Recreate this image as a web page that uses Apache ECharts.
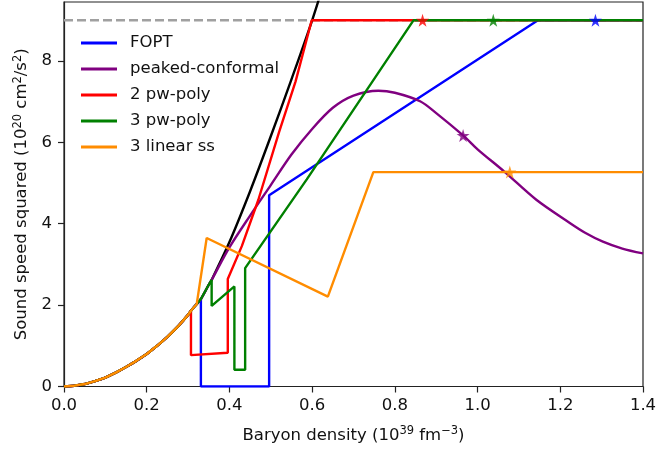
<!DOCTYPE html>
<html>
<head>
<meta charset="utf-8">
<script src="https://cdn.jsdelivr.net/npm/echarts@6/dist/echarts.min.js"></script>
<style>
  html, body { margin: 0; padding: 0; background: #fff; }
  #chart { width: 657px; height: 450px; }
</style>
</head>
<body>
<div id="chart"></div>
<script>
// shared low-density part of every curve (black = its continuation)
var baseline = [[0, 0], [0.025, 0.02], [0.05, 0.06], [0.075, 0.13], [0.1, 0.22], [0.125, 0.34],
  [0.15, 0.48], [0.175, 0.63], [0.2, 0.8], [0.225, 1.0], [0.25, 1.22], [0.275, 1.47],
  [0.3, 1.76], [0.307, 1.86], [0.321, 2.03], [0.331, 2.15], [0.35, 2.5], [0.357, 2.62],
  [0.4, 3.55], [0.45, 4.8], [0.5, 6.15], [0.55, 7.55], [0.6, 9.0], [0.64, 10.3]];

// model tails (after leaving the baseline)
var foptTail = [[0.331, 0], [0.496, 0], [0.496, 4.7], [1.146, 9.0], [1.4, 9.0]];
var peakedTail = [[0.4, 3.42], [0.45, 4.2], [0.5, 4.95], [0.55, 5.7], [0.6, 6.33], [0.65, 6.85],
  [0.7, 7.15], [0.76, 7.27], [0.8, 7.22], [0.861, 7.01], [0.9, 6.72], [0.965, 6.17], [1.0, 5.83],
  [1.066, 5.27], [1.142, 4.59], [1.223, 4.02], [1.26, 3.78], [1.303, 3.56], [1.35, 3.39], [1.4, 3.27]];
var pw2Tail = [[0.307, 0.77], [0.396, 0.83], [0.396, 2.64], [0.43, 3.45], [0.47, 4.59],
  [0.52, 6.25], [0.56, 7.5], [0.599, 9.0], [1.4, 9.0]];
var pw3Tail = [[0.357, 1.98], [0.412, 2.46], [0.412, 0.41], [0.438, 0.41], [0.438, 2.91],
  [0.587, 5.09], [0.845, 9.0], [1.4, 9.0]];
var linssTail = [[0.345, 3.65], [0.638, 2.21], [0.748, 5.27], [1.4, 5.27]];

// where each model leaves the baseline
var joinX = { fopt: 0.331, peaked: 0.357, pw2: 0.307, pw3: 0.357, linss: 0.321 };

var names = ['FOPT', 'peaked-conformal', '2 pw-poly', '3 pw-poly', '3 linear ss'];
var colors = ['#0000ff', '#800080', '#ff0000', '#008000', '#ff8c00'];
var smoothed = [false, true, false, false, false];

// stars (max sound speed point of each model)
var starX = [1.285, 0.965, 0.867, 1.038, 1.078];
var starY = [9.0, 6.17, 9.0, 9.0, 5.27];

var yTicks = [0, 2, 4, 6, 8];
var causalLimit = 9.0;

function head(x) {
  return baseline.filter(function (p) { return p[0] <= x + 1e-9; });
}

var curves = [
  head(joinX.fopt).concat(foptTail),
  head(joinX.peaked).concat(peakedTail),
  head(joinX.pw2).concat(pw2Tail),
  head(joinX.pw3).concat(pw3Tail),
  head(joinX.linss).concat(linssTail)
];

var starPath = 'path://M50,0 L61,35 L98,35 L68,57 L79,91 L50,70 L21,91 L32,57 L2,35 L39,35 Z';
var font = 'DejaVu Sans';
var fs = 16.5;
var ink = '#111';
var lw = 2.4;

var series = [
  {
    type: 'line', name: 'limit', data: [[0, causalLimit], [1.4, causalLimit]],
    symbol: 'none', silent: true,
    lineStyle: { color: '#a0a0a0', width: lw, type: [9, 4] }
  },
  {
    type: 'line', name: 'baseline', data: baseline, smooth: 0.3,
    symbol: 'none', silent: true,
    lineStyle: { color: '#000', width: lw }
  }
];
names.forEach(function (n, i) {
  series.push({
    type: 'line', name: n, data: curves[i], symbol: 'none',
    smooth: smoothed[i] ? 0.3 : false,
    lineStyle: { color: colors[i], width: lw },
    itemStyle: { color: colors[i] }
  });
});
series.push({
  type: 'scatter', name: 'stars', symbol: starPath, symbolSize: 13, z: 5,
  data: starX.map(function (x, i) {
    return { value: [x, starY[i]], itemStyle: { color: colors[i] } };
  })
});

var rich = {
  t: { fontFamily: font, fontSize: fs, color: ink, lineHeight: 20 },
  s: { fontFamily: font, fontSize: 11.5, color: ink, verticalAlign: 'top', lineHeight: 13 }
};

var chart = echarts.init(document.getElementById('chart'));
chart.setOption({
  animation: false,
  grid: { left: 64, right: 14, top: 2, bottom: 63.5, show: true, borderColor: '#222', borderWidth: 1.2,
    outerBoundsMode: 'none' },
  legend: {
    data: names, orient: 'vertical', left: 76, top: 29.5,
    icon: 'rect', itemWidth: 36, itemHeight: 3, itemGap: 9,
    textStyle: { fontFamily: font, fontSize: fs, color: ink, padding: [0, 0, 0, 8] },
    selectedMode: false
  },
  xAxis: {
    type: 'value', min: 0, max: 1.4, interval: 0.2,
    name: '{t|Baryon density (10}{s|39}{t| fm}{s|−3}{t|)}',
    nameLocation: 'middle', nameGap: 39,
    nameTextStyle: { rich: rich },
    axisLine: { show: true, onZero: false, lineStyle: { color: '#222', width: 1.2 } },
    axisTick: { show: true, length: 6, lineStyle: { color: '#222', width: 1.2 } },
    axisLabel: { fontFamily: font, fontSize: fs, color: ink, margin: 11,
      formatter: function (v) { return v.toFixed(1); } },
    splitLine: { show: false }
  },
  yAxis: {
    type: 'value', min: 0, max: 9.45,
    name: '{t|Sound speed squared (10}{s|20}{t| cm}{s|2}{t|/s}{s|2}{t|)}',
    nameLocation: 'middle', nameGap: 32, nameRotate: 90,
    nameTextStyle: { rich: rich },
    axisLine: { show: true, onZero: false, lineStyle: { color: '#222', width: 1.2 } },
    axisTick: { show: true, length: 6, customValues: yTicks, lineStyle: { color: '#222', width: 1.2 } },
    axisLabel: { fontFamily: font, fontSize: fs, color: ink, margin: 12, customValues: yTicks },
    splitLine: { show: false }
  },
  series: series
});
</script>
</body>
</html>
